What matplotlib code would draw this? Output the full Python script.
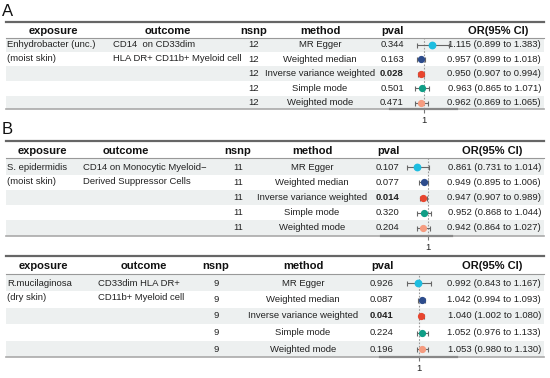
import matplotlib
matplotlib.use("Agg")
import matplotlib.pyplot as plt

plt.rcParams['font.family'] = ['Liberation Sans', 'DejaVu Sans']

# ---- data ----
methods = ["MR Egger", "Weighted median", "Inverse variance weighted",
           "Simple mode", "Weighted mode"]
method_colors = ["#1DBDE0", "#2D4C8C", "#E8452E", "#109E86", "#F59C80"]
headers = ["exposure", "outcome", "nsnp", "method", "pval", "OR(95% CI)"]

exposure_a = "Enhydrobacter (unc.)\n(moist skin)"
outcome_a = "CD14  on CD33dim\nHLA DR+ CD11b+ Myeloid cell"
nsnp_a = 12
pval_a = [0.344, 0.163, 0.028, 0.501, 0.471]
or_a = [1.115, 0.957, 0.950, 0.963, 0.962]
lo_a = [0.899, 0.899, 0.907, 0.865, 0.869]
hi_a = [1.383, 1.018, 0.994, 1.071, 1.065]

exposure_b = "S. epidermidis\n(moist skin)"
outcome_b = "CD14 on Monocytic Myeloid\u2212\nDerived Suppressor Cells"
nsnp_b = 11
pval_b = [0.107, 0.077, 0.014, 0.320, 0.204]
or_b = [0.861, 0.949, 0.947, 0.952, 0.942]
lo_b = [0.731, 0.895, 0.907, 0.868, 0.864]
hi_b = [1.014, 1.006, 0.989, 1.044, 1.027]

exposure_c = "R.mucilaginosa\n(dry skin)"
outcome_c = "CD33dim HLA DR+\nCD11b+ Myeloid cell"
nsnp_c = 9
pval_c = [0.926, 0.087, 0.041, 0.224, 0.196]
or_c = [0.992, 1.042, 1.040, 1.052, 1.053]
lo_c = [0.843, 0.994, 1.002, 0.976, 0.980]
hi_c = [1.167, 1.093, 1.080, 1.133, 1.130]

W, H = 550, 378
fig = plt.figure(figsize=(W / 100, H / 100), dpi=100)
ax = fig.add_axes([0, 0, 1, 1])
ax.set_xlim(0, W)
ax.set_ylim(H, 0)
ax.axis("off")

TXT = "#222222"
SHADE = "#edf0f0"
FS = 6.8     # body text
FSH = 8.0    # header text


def draw_panel(label, exposure, outcome, nsnp, pvals, ors, los, his, lay):
    top, hdr_y, hdr_rule, y0, step, bottom = (lay["top"], lay["hdr_y"], lay["hdr_rule"],
                                               lay["y0"], lay["step"], lay["bottom"])
    left, right = 6, 544
    if label:
        ax.text(2, top - 11, label, fontsize=12, color="#111111", va="center", ha="left")

    # row shading
    for i in range(len(methods)):
        yc = y0 + i * step
        if i % 2 == 0:
            y_a = hdr_rule if i == 0 else yc - step / 2
            y_b = bottom if i == len(methods) - 1 else yc + step / 2
            ax.fill_between([left, right], y_a, y_b, color=SHADE, lw=0, zorder=0)

    # rules
    ax.plot([left, right], [top, top], color="#666666", lw=1.6, zorder=2)
    ax.plot([left, right], [hdr_rule, hdr_rule], color="#999999", lw=0.8, zorder=2)
    ax.plot([left, right], [bottom, bottom], color="#aaaaaa", lw=1.2, zorder=2)

    # headers
    hx = [lay["exp_h"], lay["out_h"], lay["nsnp"], lay["meth"], lay["pval"], lay["or_h"]]
    for x, h in zip(hx, headers):
        ax.text(x, hdr_y, h, fontsize=FSH, fontweight="bold", ha="center",
                va="center", color="#111111")

    # exposure / outcome (multi-line, starting at first row)
    for j, line in enumerate(exposure.split("\n")):
        ax.text(7, y0 + j * lay["lsp"], line, fontsize=FS, ha="left", va="center", color=TXT)
    for j, line in enumerate(outcome.split("\n")):
        ax.text(lay["out_x"], y0 + j * lay["lsp"], line, fontsize=FS, ha="left",
                va="center", color=TXT)

    for i, m in enumerate(methods):
        yc = y0 + i * step
        ax.text(lay["nsnp"], yc, str(nsnp), fontsize=FS, ha="center", va="center", color=TXT)
        ax.text(lay["meth"], yc, m, fontsize=FS, ha="center", va="center", color=TXT)
        bold = pvals[i] < 0.05
        ax.text(lay["pval"], yc, f"{pvals[i]:.3f}", fontsize=FS, ha="center", va="center",
                color=TXT, fontweight="bold" if bold else "normal")
        ax.text(right - 3, yc, f"{ors[i]:.3f} ({los[i]:.3f} to {his[i]:.3f})",
                fontsize=FS, ha="right", va="center", color=TXT)

    # forest axes
    fx0, fx1 = lay["fx"]
    one, scale = lay["one"], lay["scale"]
    fax = fig.add_axes([fx0 / W, 1 - bottom / H, (fx1 - fx0) / W, (bottom - hdr_rule) / H])
    fax.patch.set_alpha(0)
    fax.set_xlim(1 - (one - fx0) / scale, 1 + (fx1 - one) / scale)
    fax.set_ylim((bottom - y0) / step, (hdr_rule - y0) / step)
    for s in ["top", "left", "right"]:
        fax.spines[s].set_visible(False)
    fax.spines["bottom"].set_color("#888888")
    fax.spines["bottom"].set_linewidth(1.6)
    fax.set_yticks([])
    fax.set_xticks([1])
    fax.set_xticklabels(["1"])
    fax.tick_params(axis="x", length=3, width=0.8, color="#777777", labelsize=FS,
                    labelcolor="#222222", pad=2)
    fax.axvline(1, color="#999999", lw=0.8, ls=(0, (1.5, 1.5)), zorder=1)
    for i in range(len(methods)):
        fax.errorbar(ors[i], i, xerr=[[ors[i] - los[i]], [his[i] - ors[i]]], fmt="o",
                     color=method_colors[i], ms=4.6 if i == 0 else 4.2,
                     ecolor="#666666", elinewidth=0.8,
                     capsize=1.8, capthick=0.8, zorder=3)


lay_a = dict(top=22, hdr_y=31, hdr_rule=38, y0=44.5, step=14.6, bottom=109, lsp=14,
             exp_h=53, out_h=168, out_x=113, nsnp=254, meth=320, pval=392, or_h=498,
             fx=(390, 457), one=424, scale=66)
lay_b = dict(top=141, hdr_y=151, hdr_rule=158, y0=167, step=15.25, bottom=236, lsp=14,
             exp_h=42, out_h=126, out_x=83, nsnp=238, meth=312, pval=388, or_h=492,
             fx=(381, 452), one=427.5, scale=77)
lay_c = dict(top=256, hdr_y=266, hdr_rule=274, y0=283, step=16.5, bottom=357, lsp=14,
             exp_h=43, out_h=144, out_x=98, nsnp=216, meth=303, pval=382, or_h=492,
             fx=(380, 457), one=418.5, scale=74)

draw_panel("A", exposure_a, outcome_a, nsnp_a, pval_a, or_a, lo_a, hi_a, lay_a)
draw_panel("B", exposure_b, outcome_b, nsnp_b, pval_b, or_b, lo_b, hi_b, lay_b)
draw_panel(None, exposure_c, outcome_c, nsnp_c, pval_c, or_c, lo_c, hi_c, lay_c)

fig.savefig("out.png", dpi=100)
